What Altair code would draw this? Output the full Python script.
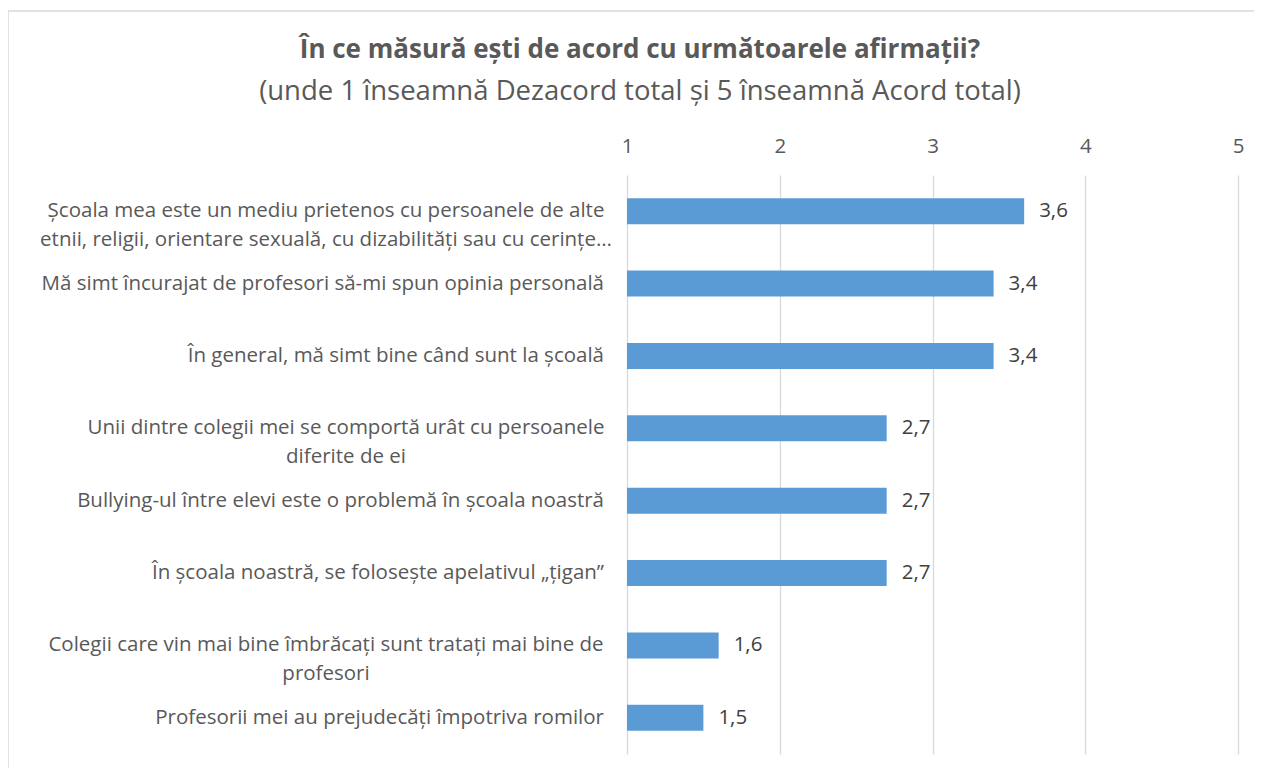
import altair as alt
import pandas as pd

categories = [
    "Școala mea este un mediu prietenos cu persoanele de alte|etnii, religii, orientare sexuală, cu dizabilități sau cu cerințe…",
    "Mă simt încurajat de profesori să-mi spun opinia personală",
    "În general, mă simt bine când sunt la școală",
    "Unii dintre colegii mei se comportă urât cu persoanele|diferite de ei",
    "Bullying-ul între elevi este o problemă în școala noastră",
    "În școala noastră, se folosește apelativul „țigan”",
    "Colegii care vin mai bine îmbrăcați sunt tratați mai bine de|profesori",
    "Profesorii mei au prejudecăți împotriva romilor",
]
values = [3.6, 3.4, 3.4, 2.7, 2.7, 2.7, 1.6, 1.5]
labels = ["3,6", "3,4", "3,4", "2,7", "2,7", "2,7", "1,6", "1,5"]
x_ticks = [1, 2, 3, 4, 5]
title_text = "În ce măsură ești de acord cu următoarele afirmații?"
subtitle_text = "(unde 1 înseamnă Dezacord total și 5 înseamnă Acord total)"

df = pd.DataFrame({"cat": categories, "val": values, "lab": labels})

FONT = "Open Sans"
GRAY = "#595959"
FS = 20.5

yscale = alt.Scale(paddingInner=0.64, paddingOuter=0.32)
yenc = alt.Y("cat:N", sort=categories, title=None, scale=yscale, axis=None)

xscale = alt.Scale(domain=[1, 5], nice=False, zero=False)
xaxis = alt.Axis(
    orient="top",
    values=x_ticks,
    format="d",
    domain=False,
    ticks=False,
    grid=True,
    gridColor="#d9d9d9",
    gridWidth=1.3,
    labelFontSize=FS,
    labelColor=GRAY,
    labelFont=FONT,
    labelPadding=19,
    labelFlush=False,
    title=None,
)

one = pd.DataFrame({"a": [0]})

border = alt.Chart(one).mark_rect(
    fill=None, stroke="#d9d9d9", strokeWidth=1.5, clip=False
).encode(
    x=alt.value(-619), x2=alt.value(700), y=alt.value(-164), y2=alt.value(700)
)

title = alt.Chart(one).mark_text(
    font=FONT, fontSize=26, fontWeight="bold", color=GRAY, align="center", baseline="middle"
).encode(x=alt.value(13), y=alt.value(-125), text=alt.value(title_text))

subtitle = alt.Chart(one).mark_text(
    font=FONT, fontSize=27.5, color=GRAY, align="center", baseline="middle"
).encode(x=alt.value(13), y=alt.value(-83), text=alt.value(subtitle_text))

bars = alt.Chart(df).mark_bar(color="#5B9BD5").encode(
    x=alt.X("val:Q", scale=xscale, axis=xaxis),
    x2=alt.datum(1),
    y=yenc,
)

values_text = alt.Chart(df).mark_text(
    align="left", baseline="middle", dx=15, fontSize=FS, font=FONT, color="#404040"
).encode(
    x=alt.X("val:Q", scale=xscale),
    y=alt.Y("cat:N", sort=categories, scale=yscale, axis=None),
    text="lab:N",
)

# single-line category labels: right aligned next to the plot
single_labels = alt.Chart(df).transform_filter(
    "indexof(datum.cat, '|') < 0"
).mark_text(
    align="right", baseline="middle", fontSize=FS, font=FONT, color=GRAY
).encode(
    x=alt.value(-23),
    y=alt.Y("cat:N", sort=categories, scale=yscale, axis=None),
    text="cat:N",
)

# wrapped category labels: centered block, as in the original
multi_labels = alt.Chart(df).transform_filter(
    "indexof(datum.cat, '|') >= 0"
).transform_calculate(
    cx="indexof(datum.cat, 'Unii') == 0 ? -281 : -301"
).mark_text(
    align="center", baseline="middle", fontSize=FS, font=FONT, color=GRAY,
    lineBreak="|", lineHeight=29,
).encode(
    x=alt.X("cx:Q", scale=None),
    y=alt.Y("cat:N", sort=categories, scale=yscale, axis=None),
    text="cat:N",
)

chart = alt.layer(
    border, title, subtitle, bars, values_text, single_labels, multi_labels
).properties(
    width=611,
    height=579,
    autosize=alt.AutoSizeParams(type="none"),
    padding={"left": 619, "top": 167, "right": 16, "bottom": 14},
    background="white",
).configure_view(stroke=None)

chart.save("out.html", embed_options={"renderer": "svg", "actions": False})
